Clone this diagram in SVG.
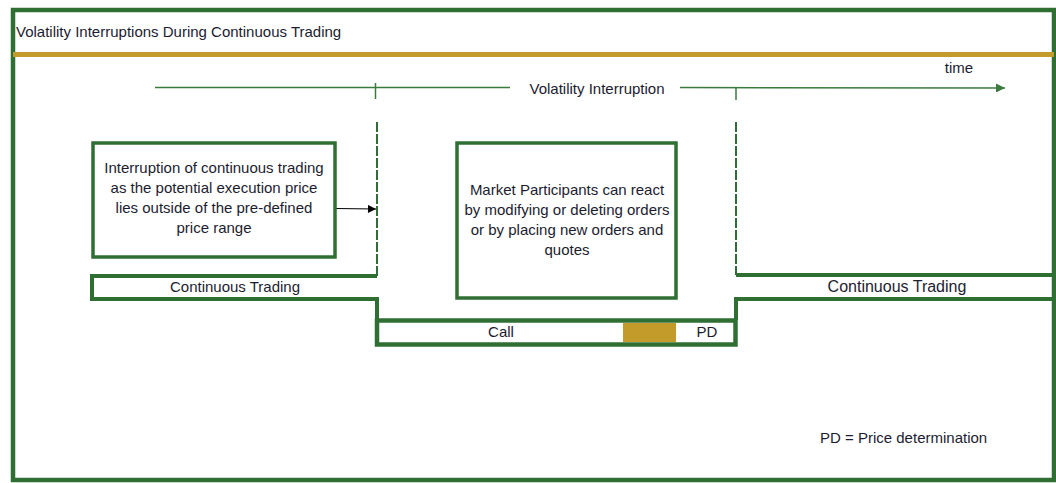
<svg xmlns="http://www.w3.org/2000/svg" width="1056" height="483" viewBox="0 0 1056 483">
<style>
text{font-family:"Liberation Sans",Arial,sans-serif;font-size:15px;fill:#1c1c30}
.box{fill:#fff;stroke:#2f6f34;stroke-width:3.5}
.g{fill:none;stroke:#2f6f34;stroke-width:4}
.tl{fill:none;stroke:#3a7a3c;stroke-width:1.5}
.dash{fill:none;stroke:#2f6f34;stroke-width:2;stroke-dasharray:10 2}
</style>
<defs>
<marker id="ga" viewBox="0 0 10 10" refX="10" refY="5" markerWidth="11" markerHeight="9" markerUnits="userSpaceOnUse" orient="auto">
<path d="M0,0 L10,5 L0,10 z" fill="#3a7a3c"/>
</marker>
<marker id="ba" viewBox="0 0 10 10" refX="10" refY="5" markerWidth="9" markerHeight="8" markerUnits="userSpaceOnUse" orient="auto">
<path d="M0,0 L10,5 L0,10 z" fill="#000"/>
</marker>
</defs>
<rect x="0" y="0" width="1056" height="483" fill="#fff"/>
<g id="frame">
<rect x="13" y="10" width="1041" height="470" fill="none" stroke="#2f6f34" stroke-width="4.5"/>
<line x1="13" y1="54.5" x2="1054" y2="54.5" stroke="#c39b2a" stroke-width="5"/>
<text x="16" y="37">Volatility Interruptions During Continuous Trading</text>
</g>
<g id="connectors">
<line class="tl" x1="155" y1="87.5" x2="510" y2="87.5"/>
<line class="tl" x1="680" y1="87.5" x2="1005" y2="88" marker-end="url(#ga)"/>
<line class="tl" x1="375.5" y1="83" x2="375.5" y2="99"/>
<line class="tl" x1="736" y1="87" x2="736" y2="100"/>
<line class="dash" x1="377" y1="122" x2="377" y2="276"/>
<line class="dash" x1="736" y1="122" x2="736" y2="275"/>
<line x1="335" y1="208.5" x2="376" y2="209" stroke="#000" stroke-width="1.2" marker-end="url(#ba)"/>
</g>
<g id="timeline-labels">
<text x="597" y="94" text-anchor="middle">Volatility Interruption</text>
<text x="959" y="73" text-anchor="middle">time</text>
</g>
<g id="trigger">
<rect class="box" x="93" y="143" width="242" height="114"/>
<text x="214" y="173" text-anchor="middle">Interruption of continuous trading</text>
<text x="214" y="193" text-anchor="middle">as the potential execution price</text>
<text x="214" y="213" text-anchor="middle">lies outside of the pre-defined</text>
<text x="214" y="233" text-anchor="middle">price range</text>
</g>
<g id="reaction">
<rect class="box" x="457" y="143" width="219" height="155"/>
<text x="567" y="195" text-anchor="middle">Market Participants can react</text>
<text x="567" y="215" text-anchor="middle">by modifying or deleting orders</text>
<text x="567" y="235" text-anchor="middle">or by placing new orders and</text>
<text x="567" y="255" text-anchor="middle">quotes</text>
</g>
<g id="continuous-left">
<path class="g" d="M377,276 L92,276 L92,299 L377,299 L377,320"/>
<text x="235" y="292" text-anchor="middle">Continuous Trading</text>
</g>
<g id="continuous-right">
<path class="g" d="M736,275 L1054,275 M1054,299 L736,299 L736,320"/>
<text x="897" y="292" text-anchor="middle" style="font-size:16px">Continuous Trading</text>
</g>
<g id="call">
<rect x="377" y="320.5" width="358.5" height="24" fill="#fff" stroke="#2f6f34" stroke-width="4.5"/>
<rect x="623" y="323" width="53" height="19" fill="#c39b2a"/>
<text x="501" y="337" text-anchor="middle">Call</text>
<text x="707" y="337" text-anchor="middle">PD</text>
</g>
<g id="legend">
<text x="820" y="443">PD = Price determination</text>
</g>
</svg>
